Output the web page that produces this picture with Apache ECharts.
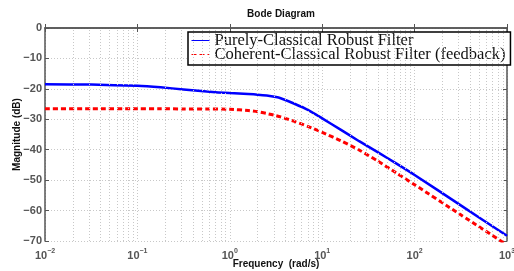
<!DOCTYPE html>
<html>
<head>
<meta charset="utf-8">
<script src="https://cdn.jsdelivr.net/npm/echarts@6/dist/echarts.min.js"></script>
<style>
    html, body { margin: 0; padding: 0; background: #fff; }
    #chart { width: 514px; height: 271px; }
</style>
</head>
<body>
<div id="chart"></div>
<script>
    // frequency points (rad/s)
    const freq = [0.01, 0.0316, 0.1, 0.178, 0.316, 0.562, 1, 1.58, 2, 2.51, 3.16, 3.55, 5.01, 7.08,
        10, 15.8, 25.1, 39.8, 63.1, 100, 316, 1000];
    // magnitudes in dB
    const purelyClassical = [-18.5, -18.6, -19.0, -19.5, -20.2, -20.9, -21.4, -21.7, -21.9, -22.2,
        -22.7, -23.1, -24.9, -27.0, -29.7, -33.4, -37.2, -40.8, -44.5, -48.3, -58.3, -68.3];
    const coherentClassical = [-26.5, -26.5, -26.5, -26.5, -26.6, -26.6, -26.7, -27.1, -27.5, -28.1,
        -28.8, -29.2, -30.7, -32.4, -34.3, -37.0, -40.1, -43.7, -47.6, -51.5, -61.4, -71.3];
    const seriesNames = ['Purely-Classical Robust Filter', 'Coherent-Classical Robust Filter (feedback)'];

    const axisColor = '#555';
    const gridColor = '#c8c8c8';

    // minor log grid lines 2..9 in every decade
    const minorLines = [];
    for (let e = -2; e < 3; e++) {
        for (let k = 2; k <= 9; k++) {
            minorLines.push({ xAxis: k * Math.pow(10, e) });
        }
    }

    const pairs = arr => freq.map((f, i) => [f, arr[i]]);

    const chart = echarts.init(document.getElementById('chart'));

    const labelFont = {
        fontFamily: 'Liberation Sans, Arial, sans-serif',
        fontWeight: 'bold',
        color: axisColor
    };
    const nameFont = {
        fontFamily: 'Liberation Sans, Arial, sans-serif',
        fontSize: 10,
        fontWeight: 'bold',
        color: '#111'
    };

    chart.setOption({
        backgroundColor: '#fff',
        animation: false,
        title: {
            text: 'Bode Diagram',
            left: 276,
            top: 4,
            textAlign: 'center',
            textStyle: nameFont
        },
        legend: {
            orient: 'vertical',
            left: 188,
            top: 32,
            padding: [0, 5, 2, 3],
            itemGap: -3,
            itemWidth: 18,
            itemHeight: 14,
            backgroundColor: '#fff',
            borderColor: '#000',
            borderWidth: 1.5,
            borderRadius: 0,
            itemStyle: { opacity: 0 },
            lineStyle: { width: 1 },
            textStyle: {
                fontFamily: 'Liberation Serif, Times New Roman, serif',
                fontSize: 16.5,
                lineHeight: 14,
                color: '#111'
            },
            data: seriesNames
        },
        grid: {
            left: 45,
            right: 7,
            top: 28,
            bottom: 30,
            outerBoundsMode: 'none'
        },
        xAxis: [{
            type: 'log',
            logBase: 10,
            min: 0.01,
            max: 1000,
            name: 'Frequency  (rad/s)',
            nameLocation: 'middle',
            nameGap: 18,
            nameMoveOverlap: false,
            nameTextStyle: nameFont,
            axisLine: { lineStyle: { color: axisColor, width: 1.5 } },
            axisTick: { inside: true, length: 4, lineStyle: { color: axisColor } },
            splitLine: { show: true, lineStyle: { color: gridColor, type: [1, 2] } },
            axisLabel: {
                margin: 7,
                formatter: v => '{b|10}{s|' + String(Math.round(Math.log10(v))).replace('-', '\u2212') + '}',
                rich: {
                    b: Object.assign({ fontSize: 11 }, labelFont),
                    s: Object.assign({ fontSize: 7, padding: [0, 0, 8, 0] }, labelFont)
                }
            }
        }, {
            type: 'log',
            logBase: 10,
            min: 0.01,
            max: 1000,
            position: 'top',
            axisLine: { lineStyle: { color: axisColor, width: 1.5 } },
            axisTick: { inside: true, length: 4, lineStyle: { color: axisColor } },
            axisLabel: { show: false },
            splitLine: { show: false }
        }],
        yAxis: [{
            type: 'value',
            min: -70,
            max: 0,
            interval: 10,
            name: 'Magnitude (dB)',
            nameLocation: 'middle',
            nameGap: 23,
            nameMoveOverlap: false,
            nameTextStyle: nameFont,
            axisLine: { show: true, lineStyle: { color: axisColor, width: 1.5 } },
            axisTick: { show: true, inside: true, length: 4, lineStyle: { color: axisColor } },
            splitLine: { show: true, lineStyle: { color: gridColor, type: [1, 2] } },
            axisLabel: Object.assign({
                fontSize: 11,
                margin: 3,
                formatter: v => v < 0 ? '\u2212' + (-v) : String(v)
            }, labelFont)
        }, {
            type: 'value',
            min: -70,
            max: 0,
            interval: 10,
            position: 'right',
            axisLine: { show: true, lineStyle: { color: axisColor, width: 1.5 } },
            axisTick: { show: true, inside: true, length: 4, lineStyle: { color: axisColor } },
            axisLabel: { show: false },
            splitLine: { show: false }
        }],
        series: [{
            name: seriesNames[0],
            type: 'line',
            data: pairs(purelyClassical),
            symbol: 'none',
            smooth: 0.2,
            z: 3,
            lineStyle: { color: '#0000ff', width: 2.5 },
            itemStyle: { color: '#0000ff' },
            markLine: {
                silent: true,
                symbol: 'none',
                label: { show: false },
                lineStyle: { color: gridColor, type: [1, 2], width: 1 },
                data: minorLines
            }
        }, {
            name: seriesNames[1],
            type: 'line',
            data: pairs(coherentClassical),
            symbol: 'none',
            smooth: 0.2,
            z: 2,
            lineStyle: { color: '#ff0000', width: 3, type: [5, 3] },
            itemStyle: { color: '#ff0000' }
        }]
    });
</script>
</body>
</html>
